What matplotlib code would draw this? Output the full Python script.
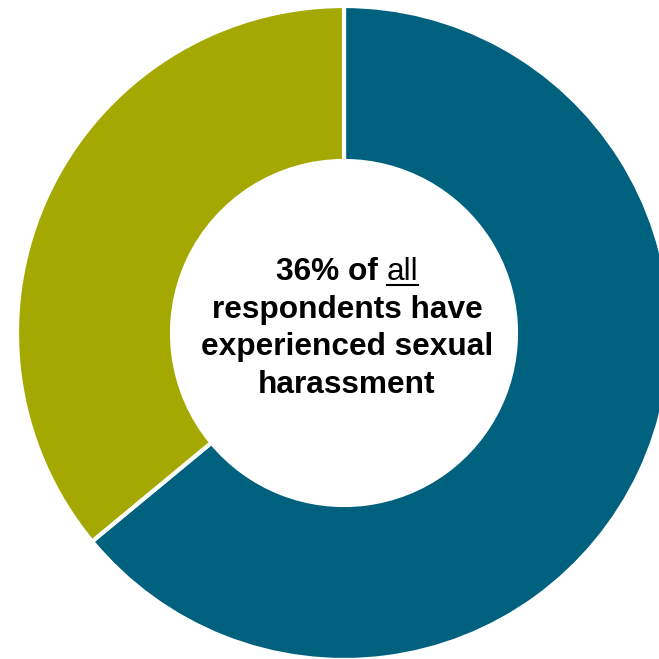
import matplotlib
matplotlib.use("Agg")
import matplotlib.pyplot as plt
from matplotlib.lines import Line2D

# share of respondents: not harassed / harassed
labels = ["Not experienced", "Experienced sexual harassment"]
shares = [64, 36]
colors = ["#00617F", "#A4A800"]

W = 659
fig = plt.figure(figsize=(6.59, 6.59), dpi=100)
ax = fig.add_axes([0, 0, 1, 1])

cx, cy, r = 344, W - 333, 327
ax.pie(shares, colors=colors, startangle=90, counterclock=False,
       center=(cx, cy), radius=r, frame=True,
       wedgeprops=dict(width=155, edgecolor="white", linewidth=3))
ax.set_xlim(0, W)
ax.set_ylim(0, W)
ax.set_aspect("equal")
ax.axis("off")

fs = 22.8
font = "Liberation Sans"
tx = 347
lines = ["respondents have", "experienced sexual", "harassment"]
ys = [W - 272, W - 310, W - 347, W - 385]

# first line mixes bold text with an underlined regular word
renderer = fig.canvas.get_renderer()
t1 = ax.text(0, ys[0], "36% of ", fontsize=fs, fontweight="bold",
             family=font, ha="left", va="center")
t2 = ax.text(0, ys[0], "all", fontsize=fs, family=font,
             ha="left", va="center")
w1 = t1.get_window_extent(renderer).width
w2 = t2.get_window_extent(renderer).width
x0 = tx - (w1 + w2) / 2
t1.set_x(x0)
t2.set_x(x0 + w1)
ax.add_line(Line2D([x0 + w1, x0 + w1 + w2], [ys[0] - 13, ys[0] - 13],
                   color="black", linewidth=1.5))

for y, s in zip(ys[1:], lines):
    ax.text(tx, y, s, fontsize=fs, fontweight="bold", family=font,
            ha="center", va="center")

fig.savefig("out.png", dpi=100)
